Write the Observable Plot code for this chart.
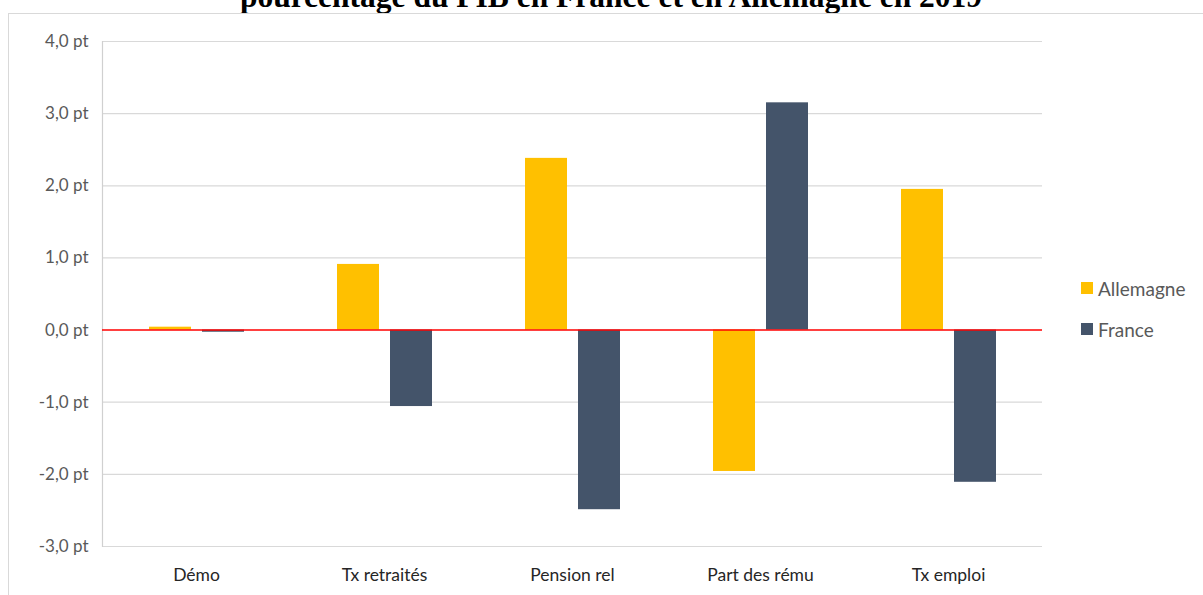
<!DOCTYPE html>
<html>
<head>
<meta charset="utf-8">
<script src="https://cdn.jsdelivr.net/npm/d3@7"></script>
<script src="https://cdn.jsdelivr.net/npm/@observablehq/plot@0.6"></script>
<style>
  html, body { margin: 0; padding: 0; background: #fff; overflow: hidden; }
  #wrap { position: relative; width: 1203px; height: 595px; overflow: hidden; }
  #title { position: absolute; left: 0; width: 1222px; top: -19px; text-align: center;
           font: bold 31.5px "Liberation Serif", "Times New Roman", serif; line-height: 1; color: #000; white-space: nowrap; }
  #frame { position: absolute; left: 8px; top: 13px; right: -2px; bottom: -2px;
           border-top: 1.5px solid #d9d9d9; border-left: 1.5px solid #d9d9d9; }
  #chart { position: absolute; left: 0; top: 0; }
  #legend { position: absolute; left: 1081px; top: 275px; font: 19px Lato, sans-serif; color: #595959; }
  .item { display: flex; align-items: center; height: 26px; margin-bottom: 15px; }
  .sw { width: 12px; height: 12px; margin-right: 5px; }
</style>
</head>
<body>
<div id="wrap">
  <div id="title">pourcentage du PIB en France et en Allemagne en 2019</div>
  <div id="frame"></div>
  <div id="chart"></div>
  <div id="legend"></div>
</div>
<script>
const categories = ["Démo", "Tx retraités", "Pension rel", "Part des rému", "Tx emploi"];
const seriesNames = ["Allemagne", "France"];
const allemagne = [0.04, 0.91, 2.38, -1.96, 1.95];
const france = [-0.03, -1.06, -2.49, 3.15, -2.11];
const colors = ["#FFC000", "#44546A"];
const yTicks = [-3, -2, -1, 0, 1, 2, 3, 4];

const data = [];
categories.forEach((c, i) => {
  data.push({cat: c, series: seriesNames[0], value: allemagne[i]});
  data.push({cat: c, series: seriesNames[1], value: france[i]});
});

const fmt = v => v.toFixed(1).replace(".", ",") + " pt";

const chart = Plot.plot({
  width: 1203,
  height: 595,
  marginTop: 41,
  marginBottom: 49,
  marginLeft: 102,
  marginRight: 161,
  style: {background: "transparent", fontFamily: "Lato, sans-serif", fontSize: "17px", overflow: "visible"},
  fx: {domain: categories, padding: 0, label: null},
  x: {domain: seriesNames, paddingInner: 0.215, paddingOuter: 0.864, axis: null},
  y: {domain: [-3, 4], label: null, axis: null},
  color: {domain: seriesNames, range: colors},
  marks: [
    Plot.gridY(yTicks.filter(t => t !== 0), {stroke: "#d9d9d9", strokeOpacity: 1, strokeWidth: 1.2}),
    Plot.axisY(yTicks, {anchor: "left", tickSize: 0, tickPadding: 14, tickFormat: fmt, fill: "#595959", fontSize: 17, label: null}),
    Plot.axisFx({anchor: "bottom", tickSize: 0, tickPadding: 22, fill: "#262626", fontSize: 17.5, label: null}),
    Plot.frame({anchor: "left", stroke: "#d0d0d0", strokeWidth: 1.2, fx: ["Démo"]}),
    Plot.barY(data, {fx: "cat", x: "series", y: "value", fill: "series"}),
    Plot.ruleY([0], {stroke: "#ff0000", strokeWidth: 1.6})
  ]
});
document.getElementById("chart").appendChild(chart);

const legend = document.getElementById("legend");
seriesNames.forEach((s, i) => {
  const it = document.createElement("div");
  it.className = "item";
  const sw = document.createElement("span");
  sw.className = "sw";
  sw.style.background = colors[i];
  const tx = document.createElement("span");
  tx.textContent = s;
  it.appendChild(sw); it.appendChild(tx);
  legend.appendChild(it);
});
</script>
</body>
</html>
